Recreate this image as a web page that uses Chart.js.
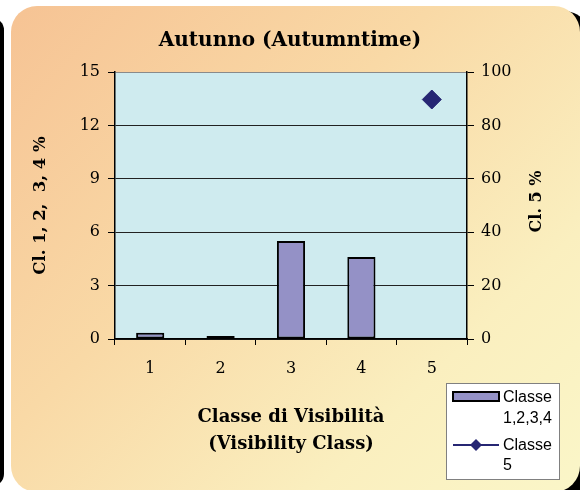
<!DOCTYPE html>
<html>
<head>
<meta charset="utf-8">
<script src="https://cdn.jsdelivr.net/npm/chart.js@4/dist/chart.umd.min.js"></script>
<style>
  html, body { margin: 0; padding: 0; background: #fff; overflow: hidden; }
  #wrap { position: relative; width: 580px; height: 490px; }
  #leftEdge { position: absolute; left: -20px; top: 18px; width: 24px; height: 468px; background: #000; border-radius: 12px; }
  #shadow { position: absolute; left: 300px; top: 11px; width: 290px; height: 500px; background: #000; border-radius: 26px; }
  #card { position: absolute; left: 11px; top: 6px; width: 569px; height: 486px; border-radius: 26px;
          background: linear-gradient(135deg, #f6c394 0%, #f9d9a6 40%, #faefbf 75%, #faf6c8 100%); }
  canvas { position: absolute; left: 0; top: 0; }
</style>
</head>
<body>
<div id="wrap">
  <div id="leftEdge"></div>
  <div id="shadow"></div>
  <div id="card"></div>
  <canvas id="chart" width="580" height="490"></canvas>
</div>
<script>
// values
const categories = ['1', '2', '3', '4', '5'];
const classe1234 = [0.35, 0.12, 5.5, 4.6, null];   // left axis, %
const classe5 = [null, null, null, null, 89.7];     // right axis, %
const leftTicks = [0, 3, 6, 9, 12, 15];
const rightTicks = [0, 20, 40, 60, 80, 100];
const rightTitle = 'Cl. 5 %';

const serif = "'DejaVu Serif', serif";

// plot background
const plotBg = {
    id: 'plotBg',
    beforeDraw(chart) {
        const { ctx, chartArea: a } = chart;
        ctx.save();
        ctx.fillStyle = '#cfebef';
        ctx.fillRect(a.left, a.top, a.right - a.left, a.bottom - a.top);
        ctx.restore();
    }
};

// right axis title reads bottom-to-top like the left one
const rightAxisTitle = {
    id: 'rightAxisTitle',
    afterDraw(chart) {
        const { ctx, chartArea: a } = chart;
        ctx.save();
        ctx.translate(537, (a.top + a.bottom) / 2 - 4);
        ctx.rotate(-Math.PI / 2);
        ctx.font = 'bold 16px ' + serif;
        ctx.fillStyle = '#000';
        ctx.textAlign = 'center';
        ctx.textBaseline = 'middle';
        ctx.fillText(rightTitle, 0, 0);
        ctx.restore();
    }
};

// excel style legend box, text from the datasets
const boxLegend = {
    id: 'boxLegend',
    afterDraw(chart) {
        const ctx = chart.ctx;
        const ds = chart.data.datasets;
        const x = 446, y = 383, w = 113, h = 96;
        ctx.save();
        ctx.fillStyle = '#fff';
        ctx.fillRect(x, y, w, h);
        ctx.strokeStyle = '#808080';
        ctx.lineWidth = 1;
        ctx.strokeRect(x + 0.5, y + 0.5, w, h);

        ctx.font = "16px 'Liberation Sans', Arial, sans-serif";
        ctx.textBaseline = 'middle';

        // bar entry
        ctx.fillStyle = ds[0].backgroundColor;
        ctx.fillRect(453, 392, 46, 9);
        ctx.strokeStyle = '#000';
        ctx.lineWidth = 2;
        ctx.strokeRect(453, 392, 46, 9);
        ctx.fillStyle = '#000';
        ds[0].label.split(' ').forEach((t, i) => ctx.fillText(t, 503, 398 + i * 21));

        // line entry
        ctx.strokeStyle = ds[1].borderColor;
        ctx.lineWidth = 2;
        ctx.beginPath();
        ctx.moveTo(453, 445);
        ctx.lineTo(499, 445);
        ctx.stroke();
        ctx.fillStyle = ds[1].backgroundColor;
        ctx.beginPath();
        ctx.moveTo(476, 439); ctx.lineTo(482, 445); ctx.lineTo(476, 451); ctx.lineTo(470, 445);
        ctx.closePath();
        ctx.fill();
        ctx.fillStyle = '#000';
        ds[1].label.split(' ').forEach((t, i) => ctx.fillText(t, 503, 446 + i * 20));
        ctx.restore();
    }
};

const ctx = document.getElementById('chart').getContext('2d');
new Chart(ctx, {
    type: 'bar',
    data: {
        labels: categories,
        datasets: [{
            type: 'bar',
            label: 'Classe 1,2,3,4',
            data: classe1234,
            yAxisID: 'y',
            backgroundColor: '#9491c6',
            borderColor: '#000',
            borderWidth: 2,
            borderSkipped: false,
            barPercentage: 0.4,
            categoryPercentage: 1.0,
            minBarLength: 3,
            order: 2
        }, {
            type: 'line',
            label: 'Classe 5',
            data: classe5,
            yAxisID: 'y1',
            borderColor: '#262673',
            backgroundColor: '#262673',
            pointStyle: 'rectRot',
            pointRadius: 9.5,
            pointBorderWidth: 1,
            showLine: false,
            order: 1
        }]
    },
    options: {
        responsive: false,
        animation: false,
        layout: { padding: 0 },
        plugins: {
            legend: { display: false },
            tooltip: { enabled: false },
            title: {
                display: true,
                text: 'Autunno (Autumntime)',
                color: '#000',
                font: { family: serif, size: 20, weight: 'bold', lineHeight: 1.2 },
                padding: { top: 29, bottom: 19 }
            }
        },
        scales: {
            x: {
                offset: true,
                grid: { offset: true, drawOnChartArea: false, color: '#000', tickLength: 6 },
                border: { color: '#000', width: 1.5 },
                ticks: { color: '#000', padding: 14, font: { family: serif, size: 16 } },
                title: {
                    display: true,
                    text: ['Classe di Visibilità', '(Visibility Class)'],
                    color: '#000',
                    font: { family: serif, size: 18, weight: 'bold', lineHeight: 1.5 },
                    padding: { top: 0, bottom: 32 }
                },
                afterFit(s) { s.height = 490 - 339; }
            },
            y: {
                position: 'left',
                min: 0, max: 15,
                afterBuildTicks(s) { s.ticks = leftTicks.map(v => ({ value: v })); },
                grid: {
                    color: c => c.tick && c.tick.value === 15 ? '#8a8a8a' : '#222',
                    tickColor: '#000',
                    tickLength: 7
                },
                border: { color: '#000', width: 1.5 },
                ticks: { color: '#000', padding: 8, font: { family: serif, size: 16 } },
                title: {
                    display: true,
                    text: 'Cl. 1, 2,  3, 4 %',
                    color: '#000',
                    font: { family: serif, size: 16.5, weight: 'bold', lineHeight: 1.2 },
                    padding: { top: 31, bottom: 0 }
                },
                afterFit(s) { s.width = 115; }
            },
            y1: {
                position: 'right',
                min: 0, max: 100,
                afterBuildTicks(s) { s.ticks = rightTicks.map(v => ({ value: v })); },
                grid: { drawOnChartArea: false, color: '#000', tickLength: 7 },
                border: { color: '#000', width: 1.5 },
                ticks: { color: '#000', padding: 7, font: { family: serif, size: 16 } },
                afterFit(s) { s.width = 580 - 467; }
            }
        }
    },
    plugins: [plotBg, rightAxisTitle, boxLegend]
});
</script>
</body>
</html>
